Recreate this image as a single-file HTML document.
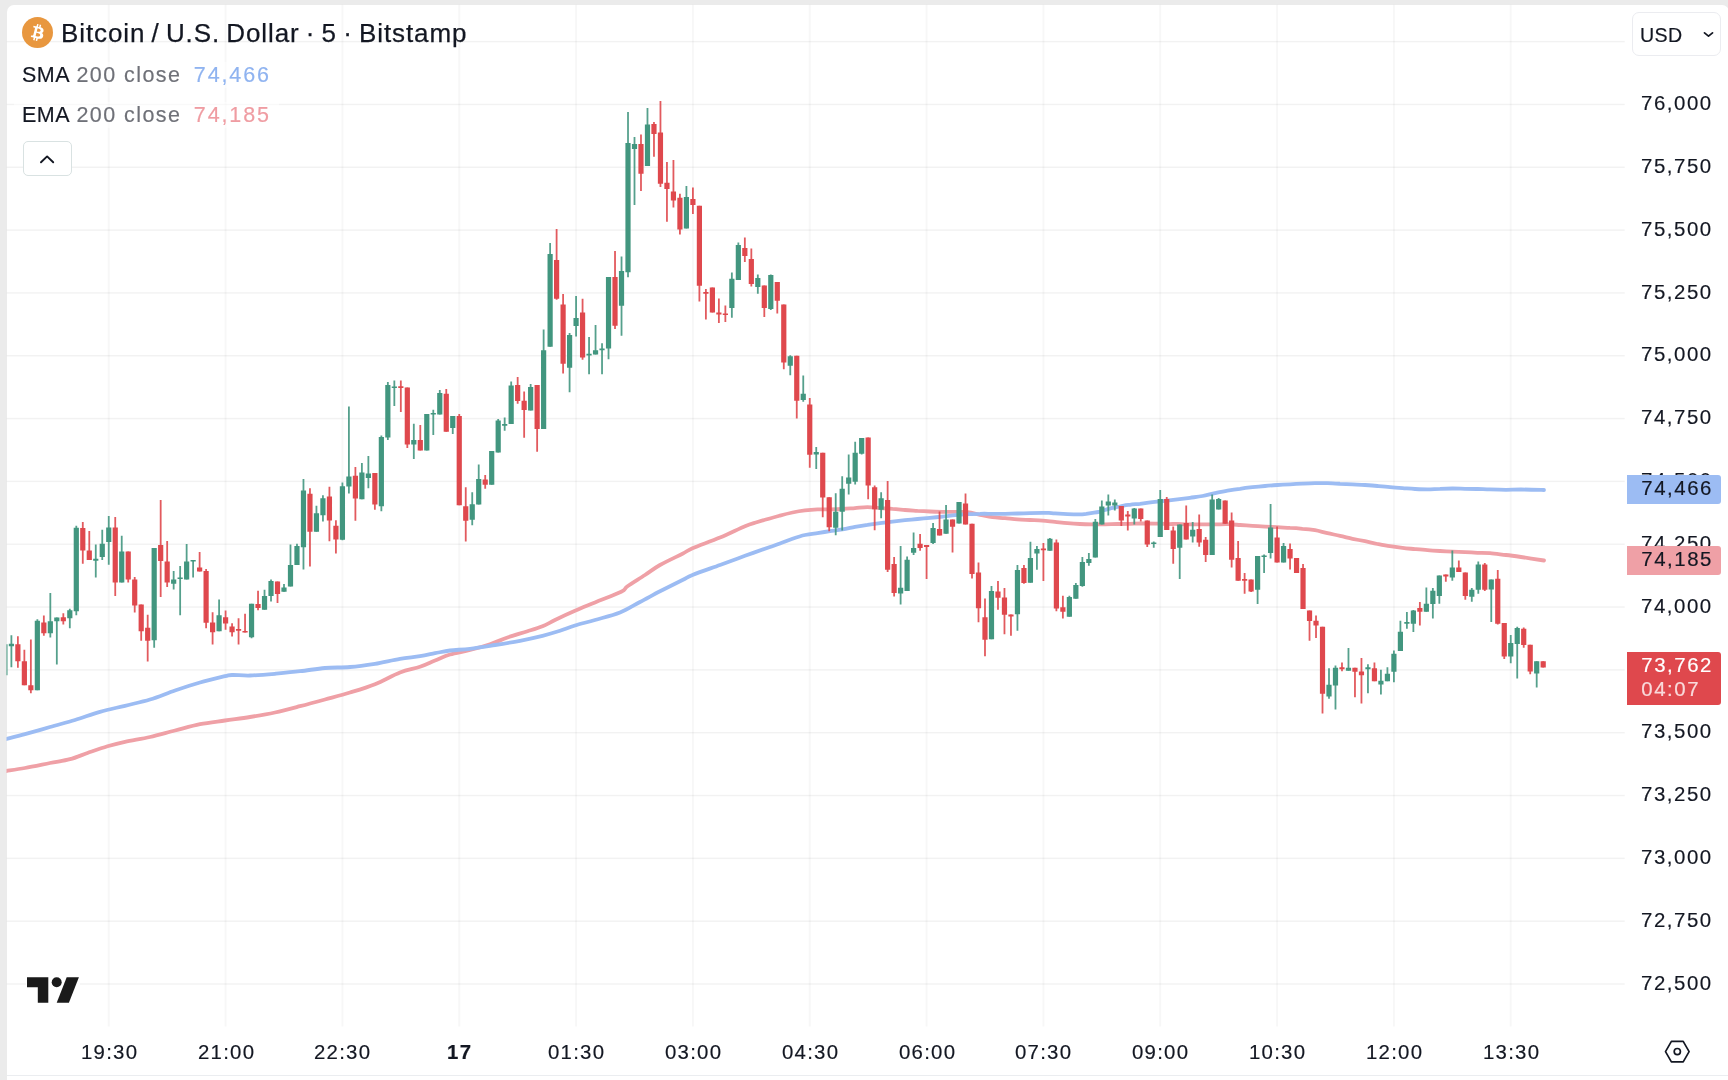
<!DOCTYPE html>
<html lang="en">
<head>
<meta charset="utf-8">
<title>Bitcoin / U.S. Dollar</title>
<style>
*{box-sizing:border-box;margin:0;padding:0}
html,body{width:1728px;height:1080px;overflow:hidden;background:#ebebeb}
body{font-family:"Liberation Sans",sans-serif;color:#131722;position:relative}
.panel{position:absolute;left:6.5px;top:4.5px;width:1722px;height:1100px;background:#fff;border-radius:7px 7px 0 0}
.chart{position:absolute;left:0;top:0}
.bline{position:absolute;left:6.5px;top:1074.7px;width:1722px;height:1.6px;background:#ebedf0}
.title,.lg,.pl,.tl,.tag,.usd span{will-change:transform}
.lg,.pl,.tl,.tag,.usd span{-webkit-text-stroke:.18px}
.title{position:absolute;left:60.6px;top:17.6px;font-size:26px;line-height:30px;white-space:nowrap;letter-spacing:.9px;word-spacing:-1.9px;color:#131722;-webkit-text-stroke:.25px #131722}
.btc{position:absolute;left:22px;top:16.8px;width:31px;height:31px}
.lg{position:absolute;left:14px;padding:0 8px;background:rgba(255,255,255,.55);font-size:21.5px;line-height:26px;white-space:nowrap;color:#131722;letter-spacing:.5px}
.lg .g{color:#6f7178;letter-spacing:1.45px;margin-left:1px}
.lg .v{margin-left:12.3px;letter-spacing:1.9px}
.tog{position:absolute;left:22.8px;top:141.2px;width:48.8px;height:34.8px;border:1.3px solid #d9e2e2;border-radius:5px;background:#fff}
.usd{position:absolute;left:1632.4px;top:12.3px;width:88.3px;height:43.4px;border:1.2px solid #ebecf0;border-radius:7px;background:#fff}
.usd span{position:absolute;left:6.3px;top:9.6px;font-size:19.6px;line-height:24px;letter-spacing:.4px}
.pl{position:absolute;left:1641px;width:80px;font-size:20.4px;line-height:24px;letter-spacing:1.55px;white-space:nowrap;color:#131722}
.tl{position:absolute;top:1040.3px;width:80px;text-align:center;font-size:20.4px;line-height:24px;letter-spacing:1.3px;white-space:nowrap;color:#131722;padding-left:1.3px}
.tl.b{font-weight:700}
.tag{position:absolute;left:1626.9px;width:94.4px;border-radius:0 3px 3px 0;font-size:20.4px;line-height:24px;letter-spacing:1.55px;padding-left:14.3px;white-space:nowrap;color:#131722}
.tag.s{top:475.4px;height:29.2px;background:#9cbcf3;padding-top:1.4px}
.tag.e{top:545.8px;height:29.2px;background:#efa0a6;padding-top:1.4px}
.tag.p{top:652.3px;height:53px;background:#df484d;color:#fff;padding-top:.8px}
.tag.p i{display:block;font-style:normal;opacity:.8;margin-top:.3px}
</style>
</head>
<body>
<div class="panel"></div>
<svg class="chart" width="1728" height="1080" viewBox="0 0 1728 1080"><defs><clipPath id="cp"><rect x="6.5" y="4.5" width="1722" height="1076"/></clipPath></defs><g clip-path="url(#cp)"><rect x="6.5" y="40.88" width="1618.2" height="1.5" fill="#000" fill-opacity=".05"/><rect x="6.5" y="103.70" width="1618.2" height="1.5" fill="#000" fill-opacity=".05"/><rect x="6.5" y="166.53" width="1618.2" height="1.5" fill="#000" fill-opacity=".05"/><rect x="6.5" y="229.35" width="1618.2" height="1.5" fill="#000" fill-opacity=".05"/><rect x="6.5" y="292.18" width="1618.2" height="1.5" fill="#000" fill-opacity=".05"/><rect x="6.5" y="355.00" width="1618.2" height="1.5" fill="#000" fill-opacity=".05"/><rect x="6.5" y="417.82" width="1618.2" height="1.5" fill="#000" fill-opacity=".05"/><rect x="6.5" y="480.65" width="1618.2" height="1.5" fill="#000" fill-opacity=".05"/><rect x="6.5" y="543.48" width="1618.2" height="1.5" fill="#000" fill-opacity=".05"/><rect x="6.5" y="606.30" width="1618.2" height="1.5" fill="#000" fill-opacity=".05"/><rect x="6.5" y="669.13" width="1618.2" height="1.5" fill="#000" fill-opacity=".05"/><rect x="6.5" y="731.95" width="1618.2" height="1.5" fill="#000" fill-opacity=".05"/><rect x="6.5" y="794.78" width="1618.2" height="1.5" fill="#000" fill-opacity=".05"/><rect x="6.5" y="857.60" width="1618.2" height="1.5" fill="#000" fill-opacity=".05"/><rect x="6.5" y="920.43" width="1618.2" height="1.5" fill="#000" fill-opacity=".05"/><rect x="6.5" y="983.25" width="1618.2" height="1.5" fill="#000" fill-opacity=".05"/><rect x="107.75" y="4.5" width="2" height="1022" fill="#000" fill-opacity=".03"/><rect x="224.58" y="4.5" width="2" height="1022" fill="#000" fill-opacity=".03"/><rect x="341.42" y="4.5" width="2" height="1022" fill="#000" fill-opacity=".03"/><rect x="458.25" y="4.5" width="2" height="1022" fill="#000" fill-opacity=".03"/><rect x="575.08" y="4.5" width="2" height="1022" fill="#000" fill-opacity=".03"/><rect x="691.91" y="4.5" width="2" height="1022" fill="#000" fill-opacity=".03"/><rect x="808.75" y="4.5" width="2" height="1022" fill="#000" fill-opacity=".03"/><rect x="925.58" y="4.5" width="2" height="1022" fill="#000" fill-opacity=".03"/><rect x="1042.41" y="4.5" width="2" height="1022" fill="#000" fill-opacity=".03"/><rect x="1159.24" y="4.5" width="2" height="1022" fill="#000" fill-opacity=".03"/><rect x="1276.08" y="4.5" width="2" height="1022" fill="#000" fill-opacity=".03"/><rect x="1392.91" y="4.5" width="2" height="1022" fill="#000" fill-opacity=".03"/><rect x="1509.74" y="4.5" width="2" height="1022" fill="#000" fill-opacity=".03"/><path d="M6.5 771.0C9.6 770.5 17.8 769.3 25.0 768.0C32.2 766.7 42.5 764.5 50.0 763.0C57.5 761.5 63.8 760.9 70.0 759.2C76.2 757.6 81.2 755.2 87.5 753.0C93.8 750.8 101.2 748.1 107.5 746.2C113.8 744.4 117.9 743.3 125.0 741.8C132.1 740.2 141.7 738.9 150.0 737.0C158.3 735.1 166.7 732.6 175.0 730.5C183.3 728.4 191.7 725.9 200.0 724.2C208.3 722.6 216.7 721.7 225.0 720.5C233.3 719.3 241.7 718.3 250.0 717.0C258.3 715.7 266.7 714.3 275.0 712.5C283.3 710.7 291.7 708.4 300.0 706.2C308.3 704.1 316.7 701.8 325.0 699.5C333.3 697.2 341.7 695.0 350.0 692.5C358.3 690.0 366.7 687.6 375.0 684.2C383.3 680.9 392.5 675.4 400.0 672.5C407.5 669.6 414.2 668.8 420.0 666.8C425.8 664.8 430.0 662.5 435.0 660.5C440.0 658.5 444.2 656.2 450.0 654.5C455.8 652.8 463.3 651.7 470.0 650.0C476.7 648.3 483.8 646.3 490.0 644.2C496.2 642.2 501.2 639.7 507.5 637.5C513.8 635.3 521.7 633.1 527.5 631.2C533.3 629.4 537.9 628.1 542.5 626.2C547.1 624.4 549.6 622.6 555.0 620.0C560.4 617.4 568.3 613.7 575.0 610.8C581.7 607.8 587.3 605.7 595.0 602.5C602.7 599.3 615.8 594.5 621.2 591.8C626.7 589.0 623.5 589.0 627.5 586.2C631.5 583.5 639.6 578.5 645.0 575.0C650.4 571.5 653.8 568.5 660.0 565.0C666.2 561.5 677.1 556.5 682.5 553.8C687.9 551.0 686.2 551.0 692.5 548.2C698.8 545.5 711.2 541.2 720.0 537.5C728.8 533.8 738.8 528.8 745.0 526.2C751.2 523.7 751.7 523.8 757.5 522.0C763.3 520.2 774.2 517.2 780.0 515.6C785.8 514.0 788.3 513.4 792.5 512.5C796.7 511.6 800.8 510.9 805.0 510.4C809.2 509.9 813.3 509.6 817.5 509.4C821.7 509.2 825.8 509.5 830.0 509.4C834.2 509.3 838.3 509.2 842.5 509.0C846.7 508.8 850.8 508.4 855.0 508.1C859.2 507.8 863.3 507.2 867.5 507.2C871.7 507.2 875.8 507.9 880.0 508.1C884.2 508.4 888.3 508.4 892.5 508.8C896.7 509.1 900.8 509.6 905.0 510.0C909.2 510.4 913.3 510.6 917.5 510.9C921.7 511.1 925.8 511.3 930.0 511.5C934.2 511.7 938.3 511.8 942.5 511.9C946.7 512.0 950.8 511.9 955.0 511.9C959.2 511.9 963.3 511.6 967.5 512.1C971.7 512.6 975.8 513.9 980.0 514.8C984.2 515.6 988.3 516.7 992.5 517.2C996.7 517.8 1000.8 517.7 1005.0 518.1C1009.2 518.5 1013.3 519.1 1017.5 519.4C1021.7 519.7 1025.8 519.8 1030.0 520.0C1034.2 520.2 1038.3 520.3 1042.5 520.6C1046.7 520.9 1050.8 521.5 1055.0 521.9C1059.2 522.3 1063.3 522.8 1067.5 523.1C1071.7 523.5 1075.8 523.8 1080.0 524.0C1084.2 524.2 1088.3 524.3 1092.5 524.4C1096.7 524.5 1100.8 524.5 1105.0 524.4C1109.2 524.3 1113.3 524.1 1117.5 524.0C1121.7 523.9 1125.8 523.8 1130.0 523.8C1134.2 523.7 1138.3 523.5 1142.5 523.5C1146.7 523.5 1150.8 523.5 1155.0 523.6C1159.2 523.7 1163.8 523.9 1167.5 524.0C1171.2 524.1 1173.8 523.9 1177.5 524.0C1181.2 524.1 1185.8 524.3 1190.0 524.4C1194.2 524.5 1198.3 524.4 1202.5 524.4C1206.7 524.4 1210.8 524.4 1215.0 524.4C1219.2 524.4 1223.3 524.1 1227.5 524.2C1231.7 524.3 1235.8 524.7 1240.0 525.0C1244.2 525.3 1248.3 525.6 1252.5 525.9C1256.7 526.2 1260.8 526.4 1265.0 526.6C1269.2 526.8 1273.3 527.0 1277.5 527.2C1281.7 527.5 1285.8 527.6 1290.0 527.9C1294.2 528.1 1298.3 528.4 1302.5 528.8C1306.7 529.1 1310.8 529.5 1315.0 530.2C1319.2 531.0 1323.3 532.2 1327.5 533.1C1331.7 534.0 1335.8 535.0 1340.0 535.9C1344.2 536.8 1348.3 537.9 1352.5 538.8C1356.7 539.6 1360.8 540.4 1365.0 541.2C1369.2 542.1 1373.3 543.2 1377.5 544.0C1381.7 544.8 1385.8 545.6 1390.0 546.2C1394.2 546.9 1398.3 547.4 1402.5 547.9C1406.7 548.4 1410.8 548.7 1415.0 549.1C1419.2 549.5 1423.3 549.9 1427.5 550.2C1431.7 550.6 1435.8 550.8 1440.0 551.0C1444.2 551.2 1448.3 551.4 1452.5 551.6C1456.7 551.8 1460.8 551.9 1465.0 552.1C1469.2 552.3 1473.3 552.6 1477.5 552.8C1481.7 552.9 1485.2 552.7 1490.0 553.1C1494.8 553.5 1500.8 554.4 1506.0 555.0C1511.2 555.6 1514.7 556.1 1521.0 557.0C1527.3 557.9 1540.2 559.9 1544.0 560.5" stroke="#efa0a6" stroke-width="3.8" fill="none" stroke-linecap="round" stroke-linejoin="round"/><path d="M6.5 739.0C9.6 738.2 17.8 736.2 25.0 734.2C32.2 732.2 41.7 729.4 50.0 727.0C58.3 724.6 66.7 722.5 75.0 720.0C83.3 717.5 91.7 714.1 100.0 711.8C108.3 709.4 116.7 707.8 125.0 705.8C133.3 703.7 141.7 702.0 150.0 699.5C158.3 697.0 166.7 693.3 175.0 690.5C183.3 687.7 191.7 684.9 200.0 682.5C208.3 680.1 219.6 677.5 225.0 676.2C230.4 675.0 228.3 675.1 232.5 675.0C236.7 674.9 242.9 675.7 250.0 675.5C257.1 675.3 266.7 674.5 275.0 673.8C283.3 673.0 291.7 672.2 300.0 671.2C308.3 670.3 316.7 668.7 325.0 668.0C333.3 667.3 341.7 667.7 350.0 667.0C358.3 666.3 366.7 665.1 375.0 663.8C383.3 662.4 392.5 660.0 400.0 658.8C407.5 657.5 414.2 657.2 420.0 656.2C425.8 655.3 430.0 654.2 435.0 653.2C440.0 652.3 444.2 651.2 450.0 650.5C455.8 649.8 462.5 649.7 470.0 648.8C477.5 647.8 486.7 646.3 495.0 645.0C503.3 643.7 512.1 642.3 520.0 640.8C527.9 639.2 535.8 637.4 542.5 635.8C549.2 634.1 554.6 632.5 560.0 630.8C565.4 629.0 569.2 627.3 575.0 625.5C580.8 623.7 587.5 622.2 595.0 620.0C602.5 617.8 612.5 615.5 620.0 612.5C627.5 609.5 633.3 605.5 640.0 602.0C646.7 598.5 652.9 594.9 660.0 591.2C667.1 587.6 677.1 582.7 682.5 580.0C687.9 577.3 686.2 577.5 692.5 575.0C698.8 572.5 711.2 568.2 720.0 565.0C728.8 561.8 736.7 558.8 745.0 555.8C753.3 552.8 764.2 549.0 770.0 547.0C775.8 545.0 776.2 544.9 780.0 543.5C783.8 542.1 788.3 540.2 792.5 538.8C796.7 537.3 800.8 535.9 805.0 535.0C809.2 534.1 813.3 533.7 817.5 533.1C821.7 532.5 825.8 531.9 830.0 531.2C834.2 530.6 838.3 530.1 842.5 529.4C846.7 528.7 850.8 527.7 855.0 526.9C859.2 526.1 863.3 525.4 867.5 524.8C871.7 524.1 875.8 523.6 880.0 523.1C884.2 522.6 888.3 522.1 892.5 521.6C896.7 521.1 900.8 520.7 905.0 520.2C909.2 519.8 913.3 519.4 917.5 519.0C921.7 518.6 925.8 518.3 930.0 517.9C934.2 517.5 938.3 517.0 942.5 516.6C946.7 516.2 950.8 515.6 955.0 515.2C959.2 514.9 963.3 514.5 967.5 514.2C971.7 514.0 975.8 513.8 980.0 513.8C984.2 513.7 988.3 513.8 992.5 513.8C996.7 513.8 1000.8 513.8 1005.0 513.8C1009.2 513.7 1013.3 513.6 1017.5 513.5C1021.7 513.4 1025.8 513.2 1030.0 513.1C1034.2 513.0 1039.4 512.9 1042.5 512.9C1045.6 512.9 1046.7 512.8 1048.8 512.9C1050.8 513.0 1051.9 513.2 1055.0 513.4C1058.1 513.6 1063.3 513.9 1067.5 514.1C1071.7 514.3 1076.9 514.5 1080.0 514.4C1083.1 514.3 1084.2 514.0 1086.2 513.8C1088.3 513.5 1090.4 513.2 1092.5 512.9C1094.6 512.6 1096.7 512.4 1098.8 511.9C1100.8 511.4 1102.9 510.6 1105.0 510.0C1107.1 509.4 1109.2 508.6 1111.2 508.1C1113.3 507.6 1115.4 507.3 1117.5 506.9C1119.6 506.5 1121.7 506.0 1123.8 505.6C1125.8 505.2 1127.3 505.1 1130.0 504.8C1132.7 504.4 1136.2 504.2 1140.0 503.8C1143.8 503.3 1148.3 502.7 1152.5 502.2C1156.7 501.8 1160.8 501.4 1165.0 500.9C1169.2 500.4 1173.3 499.9 1177.5 499.4C1181.7 498.9 1185.8 498.3 1190.0 497.8C1194.2 497.2 1198.3 496.8 1202.5 496.0C1206.7 495.2 1210.8 494.0 1215.0 493.1C1219.2 492.2 1223.3 491.3 1227.5 490.6C1231.7 489.9 1235.8 489.3 1240.0 488.8C1244.2 488.2 1248.3 487.7 1252.5 487.2C1256.7 486.8 1260.8 486.4 1265.0 486.0C1269.2 485.6 1273.3 485.3 1277.5 485.0C1281.7 484.7 1285.8 484.5 1290.0 484.3C1294.2 484.1 1298.3 483.8 1302.5 483.6C1306.7 483.4 1310.8 483.2 1315.0 483.1C1319.2 483.0 1323.3 483.0 1327.5 483.1C1331.7 483.2 1335.8 483.5 1340.0 483.8C1344.2 484.0 1348.3 484.2 1352.5 484.4C1356.7 484.6 1360.8 484.7 1365.0 485.0C1369.2 485.3 1373.3 485.6 1377.5 486.0C1381.7 486.4 1385.8 486.8 1390.0 487.1C1394.2 487.5 1398.3 487.8 1402.5 488.1C1406.7 488.4 1410.8 488.8 1415.0 489.0C1419.2 489.2 1423.3 489.4 1427.5 489.4C1431.7 489.4 1435.8 488.9 1440.0 488.8C1444.2 488.6 1448.3 488.5 1452.5 488.5C1456.7 488.5 1460.8 488.7 1465.0 488.8C1469.2 488.8 1473.3 488.9 1477.5 489.0C1481.7 489.1 1485.2 489.3 1490.0 489.4C1494.8 489.5 1500.8 489.7 1506.0 489.8C1511.2 489.8 1514.7 489.5 1521.0 489.5C1527.3 489.5 1540.2 489.9 1544.0 490.0" stroke="#9cbcf3" stroke-width="3.8" fill="none" stroke-linecap="round" stroke-linejoin="round"/><path d="M4.90 644.2V675.2M11.39 635.2V667.2M37.35 619.2V690.2M50.33 593.1V637.6M56.82 617.6V664.6M69.81 608.7V628.2M76.30 525.7V615.2M95.77 544.5V577.5M102.26 529.7V560.1M108.75 516.0V564.7M121.73 535.7V582.5M154.18 548.1V647.8M173.66 571.1V589.5M180.15 566.1V615.2M186.64 544.1V579.5M193.13 560.0V577.5M219.09 599.5V631.2M251.55 603.7V638.2M264.53 589.7V609.8M271.02 579.5V601.5M284.00 584.1V591.7M290.49 544.5V586.5M296.98 543.7V565.1M303.47 479.1V569.5M316.45 505.8V531.8M322.94 495.2V521.6M342.42 482.6V540.2M348.91 406.5V493.6M361.89 463.1V499.2M368.38 456.1V488.2M381.36 435.5V511.2M387.85 382.0V440.1M394.34 380.4V406.1M413.81 423.7V459.1M426.79 414.1V450.5M433.29 409.7V435.1M439.78 390.0V414.5M452.76 416.1V434.1M472.23 492.2V525.2M478.72 464.5V504.6M491.70 451.1V484.8M498.19 419.1V452.5M504.68 417.5V430.7M511.17 381.4V424.1M530.65 384.0V410.5M543.63 329.5V429.1M550.12 243.0V346.8M569.59 333.1V392.2M576.08 296.1V336.5M589.06 337.1V374.2M595.55 325.1V354.6M602.04 343.2V374.2M608.53 277.1V359.2M621.52 256.5V335.7M628.01 112.0V277.2M634.50 137.1V205.1M647.48 108.0V166.1M686.42 186.1V228.6M731.86 272.5V317.7M738.35 242.4V280.1M757.82 274.5V293.7M770.80 274.5V310.1M790.27 355.2V375.2M803.25 375.6V401.7M816.24 447.1V469.1M835.71 493.2V535.2M842.20 476.2V530.6M848.69 454.5V494.6M855.18 441.7V484.6M861.67 438.1V454.5M881.14 492.2V518.2M900.62 546.1V604.6M907.11 556.5V591.1M913.60 532.5V555.1M933.07 523.1V544.1M946.05 505.0V533.7M959.03 502.0V523.5M991.49 586.1V639.2M1017.45 565.1V630.8M1030.43 541.7V582.7M1036.92 546.1V569.7M1049.90 538.1V550.7M1069.37 595.7V616.8M1075.86 583.1V598.7M1082.36 557.1V586.7M1088.85 553.1V565.7M1095.34 519.1V557.5M1101.83 500.6V524.5M1108.32 494.4V515.6M1114.81 499.6V510.4M1134.28 508.0V524.5M1153.75 541.5V547.7M1160.24 490.0V537.1M1179.72 524.5V579.1M1192.70 522.0V542.5M1212.17 494.4V555.1M1218.66 498.0V509.4M1257.60 556.1V604.1M1264.09 554.5V573.1M1270.59 504.0V558.6M1283.57 543.0V562.6M1329.00 668.2V698.8M1335.49 665.6V709.6M1348.47 648.1V670.8M1367.95 664.2V693.2M1380.93 669.8V694.6M1387.42 667.2V681.2M1393.91 650.5V682.2M1400.40 620.7V651.1M1406.89 612.1V628.7M1413.38 610.1V632.1M1426.36 587.5V611.7M1432.85 588.1V618.5M1439.34 575.5V603.7M1452.32 550.6V580.7M1471.80 588.1V601.7M1478.29 561.4V593.7M1491.27 579.5V622.1M1510.74 635.1V663.2M1517.23 626.7V678.6M1536.70 661.2V687.6" stroke="#42967f" stroke-width="1.8" fill="none" opacity="0.9"/><path d="M17.88 636.2V667.8M24.37 649.8V685.2M30.86 639.6V693.2M43.84 615.6V635.8M63.32 613.2V624.6M82.79 522.0V563.7M89.28 531.1V560.1M115.24 517.0V596.1M128.22 551.5V582.5M134.71 577.1V612.6M141.20 604.5V640.8M147.69 614.8V661.6M160.68 500.0V597.1M167.17 541.1V587.1M199.62 552.1V571.5M206.11 569.1V628.2M212.60 612.2V644.6M225.58 610.6V629.8M232.07 623.2V636.6M238.56 618.2V644.6M245.05 613.8V632.5M258.04 590.7V610.2M277.51 581.5V603.1M309.96 488.2V566.5M329.43 486.8V541.2M335.92 520.2V553.6M355.40 467.1V520.8M374.87 473.1V509.8M400.83 380.4V412.1M407.32 387.4V448.1M420.30 425.1V450.5M446.27 389.0V431.7M459.25 414.1V505.2M465.74 487.2V541.6M485.21 475.1V488.8M517.66 377.0V403.7M524.15 391.6V437.7M537.14 385.0V451.7M556.61 229.0V299.7M563.10 294.1V373.6M582.57 298.7V359.8M615.02 251.0V329.1M640.99 134.5V191.1M653.97 122.0V156.7M660.46 101.0V187.1M666.95 162.1V221.8M673.44 160.1V207.5M679.93 193.7V234.6M692.91 187.5V214.1M699.40 205.7V301.6M705.89 289.1V319.5M712.39 287.5V312.5M718.88 298.5V323.1M725.37 305.5V322.1M744.84 237.4V262.1M751.33 248.6V286.5M764.31 285.5V317.1M777.29 282.1V313.5M783.78 304.5V369.2M796.76 355.8V418.6M809.75 398.1V467.7M822.73 452.7V517.2M829.22 497.2V531.2M868.16 437.5V499.2M874.65 485.6V530.2M887.63 481.0V572.1M894.12 557.1V596.5M920.09 534.1V550.7M926.58 545.1V579.1M939.56 511.4V535.5M952.54 519.5V552.5M965.52 493.6V524.5M972.01 523.7V578.5M978.50 562.5V622.2M984.99 598.5V656.2M997.98 581.1V609.8M1004.47 588.1V634.2M1010.96 614.6V635.8M1023.94 565.1V583.7M1043.41 543.1V581.1M1056.39 539.5V611.2M1062.88 595.7V618.6M1121.30 506.0V526.1M1127.79 511.0V530.5M1140.77 508.6V521.6M1147.26 520.4V547.1M1166.73 497.0V530.1M1173.22 526.5V563.7M1186.21 505.6V539.5M1199.19 514.4V546.7M1205.68 537.1V562.1M1225.15 500.6V523.7M1231.64 512.6V567.5M1238.13 541.1V580.7M1244.62 573.1V593.7M1251.11 579.5V592.1M1277.08 526.4V562.6M1290.06 543.6V569.6M1296.55 558.0V573.0M1303.04 564.0V609.1M1309.53 610.5V640.7M1316.02 615.5V638.1M1322.51 626.7V713.6M1341.98 662.6V671.2M1354.96 667.8V697.2M1361.46 658.1V703.6M1374.44 662.6V681.2M1419.87 602.1V625.5M1445.83 574.5V581.7M1458.82 560.6V572.0M1465.31 572.4V599.7M1484.78 563.0V591.1M1497.76 570.0V624.5M1504.25 623.1V659.1M1523.72 627.5V647.7M1530.21 644.7V674.2M1543.19 661.2V667.6" stroke="#df484d" stroke-width="1.8" fill="none" opacity="0.9"/><path d="M2.30 644.2h5.2V675.2h-5.2zM8.79 643.8h5.2V646.2h-5.2zM34.75 620.8h5.2V690.2h-5.2zM47.73 621.2h5.2V633.2h-5.2zM54.22 617.6h5.2V621.2h-5.2zM67.21 610.2h5.2V618.2h-5.2zM73.70 527.7h5.2V611.2h-5.2zM93.17 558.7h5.2V560.7h-5.2zM99.66 543.7h5.2V557.1h-5.2zM106.15 527.5h5.2V542.1h-5.2zM119.13 551.5h5.2V582.5h-5.2zM151.58 548.1h5.2V640.2h-5.2zM171.06 579.5h5.2V583.7h-5.2zM177.55 577.5h5.2V579.1h-5.2zM184.04 561.5h5.2V579.5h-5.2zM190.53 560.0h5.2V561.6h-5.2zM216.49 615.2h5.2V631.2h-5.2zM248.95 603.7h5.2V637.2h-5.2zM261.93 596.1h5.2V609.8h-5.2zM268.42 581.1h5.2V596.1h-5.2zM281.40 587.5h5.2V591.7h-5.2zM287.89 565.1h5.2V586.5h-5.2zM294.38 546.1h5.2V565.1h-5.2zM300.87 490.6h5.2V547.2h-5.2zM313.85 513.2h5.2V531.8h-5.2zM320.34 498.2h5.2V515.2h-5.2zM339.82 486.2h5.2V539.8h-5.2zM346.31 476.5h5.2V486.6h-5.2zM359.29 472.5h5.2V499.2h-5.2zM365.78 473.5h5.2V478.1h-5.2zM378.76 437.1h5.2V506.2h-5.2zM385.25 385.0h5.2V437.5h-5.2zM391.74 386.5h5.2V388.1h-5.2zM411.21 440.1h5.2V444.5h-5.2zM424.19 414.1h5.2V450.5h-5.2zM430.69 413.0h5.2V414.6h-5.2zM437.18 393.0h5.2V414.5h-5.2zM450.16 416.1h5.2V428.1h-5.2zM469.63 504.2h5.2V519.8h-5.2zM476.12 479.1h5.2V504.6h-5.2zM489.10 451.1h5.2V484.8h-5.2zM495.59 420.5h5.2V452.5h-5.2zM502.08 424.1h5.2V425.7h-5.2zM508.57 385.6h5.2V424.1h-5.2zM528.05 387.0h5.2V410.5h-5.2zM541.03 350.2h5.2V429.1h-5.2zM547.52 254.1h5.2V346.8h-5.2zM566.99 335.1h5.2V367.8h-5.2zM573.48 318.1h5.2V326.1h-5.2zM586.46 353.8h5.2V355.4h-5.2zM592.95 350.2h5.2V354.6h-5.2zM599.44 348.6h5.2V350.2h-5.2zM605.93 277.1h5.2V348.6h-5.2zM618.92 271.1h5.2V305.7h-5.2zM625.41 143.1h5.2V272.2h-5.2zM631.90 144.1h5.2V149.1h-5.2zM644.88 124.4h5.2V166.1h-5.2zM683.82 197.1h5.2V228.6h-5.2zM729.26 278.7h5.2V308.1h-5.2zM735.75 245.0h5.2V280.1h-5.2zM755.22 278.1h5.2V287.1h-5.2zM768.20 275.1h5.2V309.1h-5.2zM787.67 356.2h5.2V365.8h-5.2zM800.65 393.7h5.2V400.1h-5.2zM813.64 452.1h5.2V454.5h-5.2zM833.11 511.8h5.2V527.8h-5.2zM839.60 488.8h5.2V511.8h-5.2zM846.09 477.6h5.2V483.8h-5.2zM852.58 452.7h5.2V481.8h-5.2zM859.07 438.1h5.2V453.7h-5.2zM878.54 498.2h5.2V509.8h-5.2zM898.02 587.7h5.2V593.5h-5.2zM904.51 559.7h5.2V591.1h-5.2zM911.00 548.1h5.2V552.7h-5.2zM930.47 528.1h5.2V543.1h-5.2zM943.45 519.5h5.2V533.7h-5.2zM956.43 502.0h5.2V523.5h-5.2zM988.89 591.1h5.2V639.2h-5.2zM1014.85 570.1h5.2V614.2h-5.2zM1027.83 558.1h5.2V582.7h-5.2zM1034.32 549.1h5.2V553.5h-5.2zM1047.30 538.7h5.2V550.7h-5.2zM1066.77 597.1h5.2V616.8h-5.2zM1073.26 585.1h5.2V598.7h-5.2zM1079.76 562.1h5.2V586.1h-5.2zM1086.25 559.1h5.2V563.1h-5.2zM1092.74 521.7h5.2V557.5h-5.2zM1099.23 506.6h5.2V524.5h-5.2zM1105.72 501.6h5.2V505.6h-5.2zM1112.21 502.4h5.2V505.6h-5.2zM1131.68 508.6h5.2V518.6h-5.2zM1151.15 542.5h5.2V544.1h-5.2zM1157.64 499.0h5.2V537.1h-5.2zM1177.12 524.5h5.2V547.7h-5.2zM1190.10 529.7h5.2V536.5h-5.2zM1209.57 499.6h5.2V555.1h-5.2zM1216.06 499.0h5.2V509.4h-5.2zM1255.00 556.1h5.2V589.7h-5.2zM1261.49 555.5h5.2V557.1h-5.2zM1267.99 527.6h5.2V553.0h-5.2zM1280.97 546.0h5.2V562.6h-5.2zM1326.40 684.8h5.2V696.6h-5.2zM1332.89 667.8h5.2V685.6h-5.2zM1345.87 667.8h5.2V670.8h-5.2zM1365.35 667.2h5.2V669.2h-5.2zM1378.33 680.8h5.2V684.6h-5.2zM1384.82 673.8h5.2V681.2h-5.2zM1391.31 653.7h5.2V671.8h-5.2zM1397.80 631.7h5.2V651.1h-5.2zM1404.29 622.1h5.2V623.7h-5.2zM1410.78 610.5h5.2V623.7h-5.2zM1423.76 603.7h5.2V611.7h-5.2zM1430.25 590.7h5.2V604.1h-5.2zM1436.74 575.5h5.2V596.1h-5.2zM1449.72 567.4h5.2V577.5h-5.2zM1469.20 589.7h5.2V596.7h-5.2zM1475.69 564.6h5.2V589.7h-5.2zM1488.67 579.5h5.2V589.5h-5.2zM1508.14 643.1h5.2V656.5h-5.2zM1514.63 628.1h5.2V644.1h-5.2zM1534.10 661.2h5.2V673.6h-5.2z" fill="#42967f"/><path d="M15.28 644.2h5.2V661.2h-5.2zM21.77 661.2h5.2V685.2h-5.2zM28.26 685.2h5.2V690.2h-5.2zM41.24 622.6h5.2V633.2h-5.2zM60.72 617.2h5.2V621.2h-5.2zM80.19 528.1h5.2V550.5h-5.2zM86.68 550.5h5.2V560.1h-5.2zM112.64 527.5h5.2V582.5h-5.2zM125.62 551.5h5.2V579.5h-5.2zM132.11 579.5h5.2V605.5h-5.2zM138.60 604.5h5.2V631.2h-5.2zM145.09 627.8h5.2V640.8h-5.2zM158.08 545.1h5.2V561.1h-5.2zM164.57 561.5h5.2V582.5h-5.2zM197.02 567.5h5.2V571.5h-5.2zM203.51 571.1h5.2V622.8h-5.2zM210.00 622.6h5.2V632.2h-5.2zM222.98 617.2h5.2V623.6h-5.2zM229.47 626.6h5.2V632.2h-5.2zM235.96 629.1h5.2V630.7h-5.2zM242.45 630.9h5.2V632.5h-5.2zM255.44 604.1h5.2V608.1h-5.2zM274.91 581.5h5.2V594.1h-5.2zM307.36 493.8h5.2V531.8h-5.2zM326.83 496.6h5.2V520.6h-5.2zM333.32 525.8h5.2V539.6h-5.2zM352.80 475.7h5.2V498.6h-5.2zM372.27 473.1h5.2V504.6h-5.2zM398.23 386.3h5.2V387.9h-5.2zM404.72 387.4h5.2V444.5h-5.2zM417.70 440.1h5.2V450.5h-5.2zM443.67 393.7h5.2V431.7h-5.2zM456.65 416.1h5.2V505.2h-5.2zM463.14 506.2h5.2V520.8h-5.2zM482.61 479.5h5.2V484.8h-5.2zM515.06 385.0h5.2V401.1h-5.2zM521.55 400.7h5.2V410.1h-5.2zM534.54 385.0h5.2V429.1h-5.2zM554.01 260.1h5.2V298.7h-5.2zM560.50 304.5h5.2V363.8h-5.2zM579.97 312.5h5.2V357.6h-5.2zM612.42 277.1h5.2V325.7h-5.2zM638.39 144.1h5.2V173.7h-5.2zM651.37 124.0h5.2V134.1h-5.2zM657.86 132.6h5.2V183.7h-5.2zM664.35 182.7h5.2V189.1h-5.2zM670.84 191.5h5.2V200.5h-5.2zM677.33 197.7h5.2V229.6h-5.2zM690.31 199.1h5.2V205.1h-5.2zM696.80 205.7h5.2V285.8h-5.2zM703.29 292.1h5.2V293.7h-5.2zM709.79 287.5h5.2V312.5h-5.2zM716.28 312.5h5.2V314.5h-5.2zM722.77 313.4h5.2V315.0h-5.2zM742.24 248.0h5.2V256.1h-5.2zM748.73 259.1h5.2V284.1h-5.2zM761.71 285.5h5.2V308.1h-5.2zM774.69 282.1h5.2V300.7h-5.2zM781.18 304.5h5.2V362.6h-5.2zM794.16 355.8h5.2V400.8h-5.2zM807.15 404.5h5.2V454.7h-5.2zM820.13 452.7h5.2V497.6h-5.2zM826.62 497.2h5.2V527.2h-5.2zM865.56 437.5h5.2V485.6h-5.2zM872.05 487.2h5.2V509.2h-5.2zM885.03 500.0h5.2V569.7h-5.2zM891.52 564.1h5.2V593.1h-5.2zM917.49 543.7h5.2V548.1h-5.2zM923.98 545.1h5.2V547.1h-5.2zM936.96 529.1h5.2V535.5h-5.2zM949.94 519.5h5.2V526.7h-5.2zM962.92 503.4h5.2V524.5h-5.2zM969.41 523.7h5.2V574.1h-5.2zM975.90 572.5h5.2V608.2h-5.2zM982.39 617.2h5.2V639.8h-5.2zM995.38 591.5h5.2V597.7h-5.2zM1001.87 597.5h5.2V614.8h-5.2zM1008.36 614.6h5.2V616.6h-5.2zM1021.34 568.1h5.2V583.1h-5.2zM1040.81 548.6h5.2V550.2h-5.2zM1053.79 542.5h5.2V608.6h-5.2zM1060.28 607.2h5.2V611.8h-5.2zM1118.70 506.0h5.2V520.6h-5.2zM1125.19 514.6h5.2V516.4h-5.2zM1138.17 508.6h5.2V519.0h-5.2zM1144.66 520.4h5.2V544.5h-5.2zM1164.13 499.0h5.2V530.1h-5.2zM1170.62 530.5h5.2V549.1h-5.2zM1183.61 523.0h5.2V539.5h-5.2zM1196.59 529.1h5.2V542.5h-5.2zM1203.08 539.7h5.2V555.1h-5.2zM1222.55 500.6h5.2V523.7h-5.2zM1229.04 520.4h5.2V559.7h-5.2zM1235.53 558.1h5.2V580.7h-5.2zM1242.02 579.1h5.2V580.7h-5.2zM1248.51 579.5h5.2V591.5h-5.2zM1274.48 537.4h5.2V562.6h-5.2zM1287.46 549.0h5.2V558.6h-5.2zM1293.95 558.0h5.2V573.0h-5.2zM1300.44 568.0h5.2V609.1h-5.2zM1306.93 610.5h5.2V621.1h-5.2zM1313.42 620.7h5.2V625.5h-5.2zM1319.91 626.7h5.2V693.8h-5.2zM1339.38 667.2h5.2V669.2h-5.2zM1352.36 667.8h5.2V671.8h-5.2zM1358.86 671.6h5.2V675.2h-5.2zM1371.84 668.2h5.2V681.2h-5.2zM1417.27 608.1h5.2V611.7h-5.2zM1443.23 574.5h5.2V576.5h-5.2zM1456.22 567.4h5.2V572.0h-5.2zM1462.71 572.4h5.2V596.1h-5.2zM1482.18 564.4h5.2V589.7h-5.2zM1495.16 578.7h5.2V623.7h-5.2zM1501.65 623.1h5.2V656.5h-5.2zM1521.12 628.7h5.2V645.1h-5.2zM1527.61 644.7h5.2V671.6h-5.2zM1540.59 661.2h5.2V667.6h-5.2z" fill="#df484d"/></g></svg>
<div class="bline"></div>
<div class="pl" style="top:91.0px">76,000</div><div class="pl" style="top:153.9px">75,750</div><div class="pl" style="top:216.7px">75,500</div><div class="pl" style="top:279.5px">75,250</div><div class="pl" style="top:342.4px">75,000</div><div class="pl" style="top:405.2px">74,750</div><div class="pl" style="top:468.0px">74,500</div><div class="pl" style="top:530.8px">74,250</div><div class="pl" style="top:593.7px">74,000</div><div class="pl" style="top:656.5px">73,750</div><div class="pl" style="top:719.3px">73,500</div><div class="pl" style="top:782.1px">73,250</div><div class="pl" style="top:845.0px">73,000</div><div class="pl" style="top:907.8px">72,750</div><div class="pl" style="top:970.6px">72,500</div>
<div class="tl" style="left:68.8px">19:30</div><div class="tl" style="left:185.6px">21:00</div><div class="tl" style="left:302.4px">22:30</div><div class="tl b" style="left:419.2px">17</div><div class="tl" style="left:536.1px">01:30</div><div class="tl" style="left:652.9px">03:00</div><div class="tl" style="left:769.7px">04:30</div><div class="tl" style="left:886.6px">06:00</div><div class="tl" style="left:1003.4px">07:30</div><div class="tl" style="left:1120.2px">09:00</div><div class="tl" style="left:1237.1px">10:30</div><div class="tl" style="left:1353.9px">12:00</div><div class="tl" style="left:1470.7px">13:30</div>
<div class="tag s">74,466</div>
<div class="tag e">74,185</div>
<div class="tag p">73,762<i>04:07</i></div>

<svg class="btc" viewBox="0 0 32 32"><circle cx="16" cy="16" r="16" fill="#e8973f"/><path fill="#fff" transform="translate(16.2 16) scale(.93) translate(-16 -16)" d="M22.5 14.1c.3-2-1.2-3.1-3.3-3.8l.7-2.7-1.6-.4-.7 2.6-1.3-.3.7-2.6-1.6-.4-.7 2.7-1-.2-2.300-.6-.4 1.700s1.200.3 1.200.3c.7.2.8.6.8 1l-.8 3.100.2.100-.2-.1-1.100 4.400c-.1.200-.3.500-.8.400 0 0-1.200-.3-1.200-.3l-.800 1.900 2.100.5 1.200.3-.7 2.700 1.600.4.700-2.700 1.300.3-.7 2.700 1.600.4.700-2.700c2.800.5 4.900.3 5.800-2.200.7-2-.0-3.200-1.500-4 1.100-.3 1.900-1 2.100-2.500zm-3.800 5.300c-.5 2-3.900.9-5 .6l.9-3.600c1.100.3 4.600.8 4.100 3zm.5-5.300c-.5 1.800-3.300.9-4.200.7l.8-3.200c.9.2 3.900.7 3.400 2.500z"/></svg>
<div class="title">Bitcoin / U.S. Dollar · 5 · Bitstamp</div>
<div class="lg" style="top:61.5px">SMA <span class="g">200 close</span><span class="v" style="color:#8fb3f0">74,466</span></div>
<div class="lg" style="top:102.3px">EMA <span class="g">200 close</span><span class="v" style="color:#ef9ca2">74,185</span></div>
<div class="tog"><svg width="48" height="34" viewBox="0 0 48 34" style="position:absolute;left:-1.3px;top:-1.3px"><path d="M18 21.3L24.1 15.4L30.2 21.3" fill="none" stroke="#131722" stroke-width="1.9" stroke-linecap="round" stroke-linejoin="round"/></svg></div>
<div class="usd"><span>USD</span><svg width="14" height="10" viewBox="0 0 14 10" style="position:absolute;left:68.5px;top:17.2px"><path d="M2.5 2.9L6.5 6.1L10.5 2.9" fill="none" stroke="#131722" stroke-width="1.8" stroke-linecap="round" stroke-linejoin="round"/></svg></div>
<svg style="position:absolute;left:26px;top:976px" width="54" height="28" viewBox="0 0 54 28"><rect x="-2" y="-1" width="56" height="30" fill="#fff"/><path fill="#1a1a1a" d="M1 1.2h21.300v25.600h-10.500V11.200H1z"/><circle cx="30.700" cy="6.200" r="5" fill="#1a1a1a"/><path fill="#1a1a1a" d="M40.700 1.200h12.200L42.900 26.800H30.700z"/></svg>
<svg style="position:absolute;left:1662px;top:1038px" width="30" height="28" viewBox="0 0 30 28"><path d="M3.500 13.600L9.400 3.300h11.800l5.900 10.300-5.900 10.300H9.400z" fill="none" stroke="#131722" stroke-width="1.700" stroke-linejoin="round"/><circle cx="15.300" cy="13.600" r="3.100" fill="none" stroke="#131722" stroke-width="1.700"/></svg>
</body>
</html>
